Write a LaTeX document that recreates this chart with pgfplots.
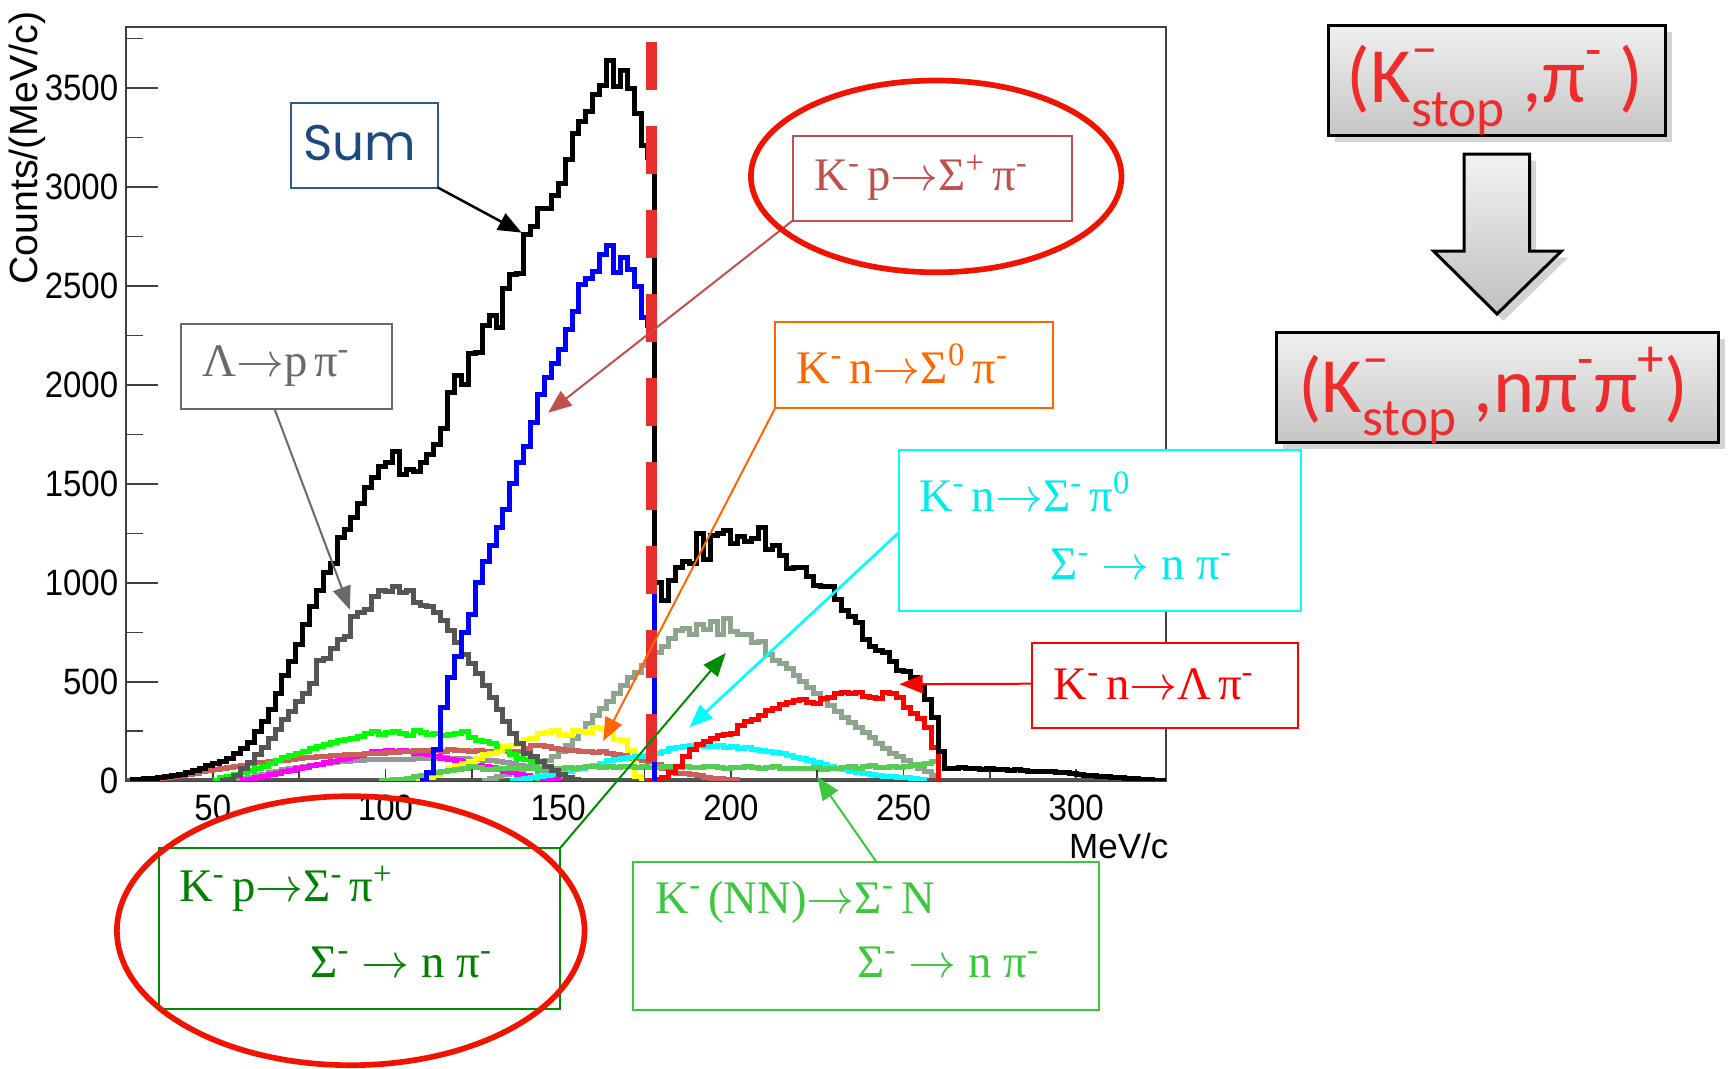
\documentclass[border=0pt]{standalone}
\usepackage{pgfplots}
\pgfplotsset{compat=1.18}
\usepackage{fontspec}
\setmainfont{Liberation Serif}
\newfontfamily\rootfont[FakeStretch=0.9]{Liberation Sans}
\newfontfamily\rootlab{Liberation Sans}
\newfontfamily\calib{Carlito}
\newfontfamily\sumfont{Poppins}
\usetikzlibrary{arrows.meta,shadows}

\definecolor{cgreygreen}{RGB}{140,165,140}
\definecolor{clambda}{RGB}{85,85,85}
\definecolor{clgray}{RGB}{150,150,150}
\definecolor{crose}{RGB}{205,95,90}
\definecolor{clime}{RGB}{0,255,0}
\definecolor{cmag}{RGB}{255,0,255}
\definecolor{cyel}{RGB}{255,255,0}
\definecolor{ccyan}{RGB}{0,255,255}
\definecolor{cnn}{RGB}{85,205,85}
\definecolor{cred}{RGB}{255,0,0}
\definecolor{cblue}{RGB}{0,0,255}
\definecolor{cdash}{RGB}{232,45,45}
\definecolor{csumbox}{RGB}{46,90,140}
\definecolor{csumtxt}{RGB}{31,73,125}
\definecolor{clambdab}{RGB}{105,105,105}
\definecolor{csigp}{RGB}{192,80,77}
\definecolor{corange}{RGB}{255,102,0}
\definecolor{ccyantxt}{RGB}{0,235,235}
\definecolor{cgreen}{RGB}{0,140,0}
\definecolor{cgreentxt}{RGB}{0,128,0}
\definecolor{cnnbox}{RGB}{60,200,60}
\definecolor{cell}{RGB}{240,20,0}
\definecolor{cpanel}{RGB}{238,44,44}

\newcommand{\sk}{\hspace{0.14em}}
\newcommand{\su}[1]{\textsuperscript{#1}}

\begin{document}
\begin{tikzpicture}
\begin{scope}[x=0.3pt,y=-0.3pt,shift={(-37.95pt,234.21pt)}]
\path[use as bounding box] (0,0) rectangle (1729,1067);
\end{scope}
\begin{axis}[at={(0,0)}, anchor=south west, scale only axis,
 width=311.86pt, height=226.15pt,
 xmin=25, xmax=326, ymin=0, ymax=3810,
 axis line style={black!75, line width=0.6pt},
 xtick={50,100,...,300}, minor xtick={75,125,...,275},
 ytick={0,500,...,3500}, minor ytick={250,750,...,3750},
 xtick pos=bottom, ytick pos=left, tick align=inside,
 xtick style={/pgfplots/major tick length=3.6pt,/pgfplots/minor tick length=3.6pt, black!75, line width=0.45pt},
 ytick style={/pgfplots/major tick length=9.3pt,/pgfplots/minor tick length=5.1pt, black!75, line width=0.45pt},
 /pgf/number format/assume math mode=true,
 /pgf/number format/1000 sep={},
 ticklabel style={font={\rootfont\fontsize{11}{11}\selectfont}, inner sep=0pt},
 yticklabel style={xshift=-2.3pt},
 xticklabel style={yshift=-4pt},
 no markers,
 every axis plot/.append style={line width=1.5pt, const plot}
]
% baseline (empty bins)
\addplot[clambda] coordinates {(25,0) (326,0)};
% K- p -> Sigma- pi+
\addplot[cgreygreen] coordinates {(128,0) (130,10) (132,20) (134,30) (136,45) (138,55) (140,65) (142,75) (144,90) (146,100) (148,120) (150,150) (152,180) (154,215) (156,250) (158,290) (160,330) (162,365) (164,400) (166,440) (168,480) (170,520) (172,545) (174,580) (176,620) (178,650) (180,680) (182,720) (184,760) (186,770) (188,740) (190,790) (192,765) (194,805) (196,740) (198,820) (200,755) (202,740) (204,740) (206,700) (208,705) (210,640) (212,610) (214,590) (216,565) (218,530) (220,500) (222,470) (224,440) (226,410) (228,380) (230,350) (232,320) (234,295) (236,270) (238,245) (240,220) (242,190) (244,165) (246,140) (248,120) (250,100) (252,80) (254,62) (256,45) (258,28) (260,0)};
% light gray
\addplot[clgray] coordinates {(54,0) (56,5) (58,10) (60,18) (62,25) (64,32) (66,40) (68,48) (70,55) (72,62) (74,68) (76,73) (78,78) (80,83) (82,88) (84,92) (86,95) (88,98) (90,100) (92,103) (94,105) (96,107) (98,108) (100,107) (102,105) (104,106) (106,108) (108,110) (110,112) (112,113) (114,112) (116,115) (118,113) (120,112) (122,110) (124,108) (126,105) (128,102) (130,100) (132,96) (134,92) (136,85) (138,78) (140,70) (142,62) (144,52) (146,42) (148,32) (150,22) (152,14) (154,8) (156,0)};
% magenta
\addplot[cmag] coordinates {(58,0) (60,5) (62,15) (64,22) (66,30) (68,38) (70,45) (72,52) (74,60) (76,68) (78,75) (80,82) (82,90) (84,98) (86,105) (88,112) (90,120) (92,128) (94,138) (96,147) (98,150) (100,155) (102,150) (104,152) (106,148) (108,140) (110,138) (112,130) (114,120) (116,112) (118,108) (120,100) (122,95) (124,85) (126,75) (128,70) (130,65) (132,55) (134,46) (136,40) (138,32) (140,25) (142,18) (144,12) (146,8) (148,5) (150,0)};
% rose
\addplot[crose] coordinates {(34,0) (36,15) (38,20) (40,25) (42,30) (44,38) (46,45) (48,52) (50,58) (52,62) (54,66) (56,70) (58,78) (60,88) (62,90) (64,92) (66,96) (68,100) (70,104) (72,108) (74,113) (76,116) (78,118) (80,122) (82,124) (84,126) (86,128) (88,130) (90,132) (92,134) (94,136) (96,138) (98,140) (100,142) (102,145) (104,147) (106,150) (108,152) (110,155) (112,153) (114,155) (116,150) (118,158) (120,152) (122,155) (124,150) (126,153) (128,150) (130,148) (132,150) (134,147) (136,150) (138,147) (140,165) (142,180) (144,178) (146,175) (148,163) (150,160) (152,155) (154,155) (156,150) (158,147) (160,145) (162,147) (164,140) (166,130) (168,125) (170,113) (172,110) (174,100) (176,96) (178,80) (180,63) (182,50) (184,37) (186,35) (188,30) (190,25) (192,15) (194,12) (196,10) (198,8) (200,5) (202,0)};
% lime
\addplot[clime] coordinates {(50,0) (52,15) (54,20) (56,30) (58,40) (60,50) (62,60) (64,70) (66,85) (68,100) (70,115) (72,125) (74,140) (76,150) (78,165) (80,175) (82,185) (84,195) (86,205) (88,210) (90,215) (92,225) (94,240) (96,250) (98,235) (100,245) (102,250) (104,240) (106,230) (108,255) (110,245) (112,235) (114,240) (116,230) (118,235) (120,240) (122,250) (124,220) (126,205) (128,200) (130,190) (132,175) (134,160) (136,130) (138,110) (140,105) (142,100) (144,0)};
% yellow: K- n -> Sigma0 pi-
\addplot[cyel] coordinates {(108,0) (110,5) (112,15) (114,30) (116,45) (118,60) (120,75) (122,85) (124,95) (126,110) (128,130) (130,140) (132,150) (134,175) (136,180) (138,195) (140,210) (142,215) (144,240) (146,245) (148,255) (150,235) (152,230) (154,255) (156,250) (158,245) (160,270) (162,265) (164,265) (166,210) (168,205) (170,155) (172,20) (174,0)};
% cyan: K- n -> Sigma- pi0
\addplot[ccyan] coordinates {(136,0) (138,5) (140,10) (142,15) (144,20) (146,25) (148,30) (150,35) (152,45) (154,55) (156,60) (158,70) (160,75) (162,85) (164,100) (166,105) (168,110) (170,115) (172,120) (174,122) (176,125) (178,140) (180,150) (182,165) (184,170) (186,175) (188,180) (190,178) (192,175) (194,172) (196,178) (198,170) (200,172) (202,165) (204,170) (206,160) (208,155) (210,150) (212,145) (214,135) (216,125) (218,115) (220,110) (222,100) (224,90) (226,80) (228,70) (230,62) (232,55) (234,48) (236,40) (238,35) (240,30) (242,25) (244,22) (246,20) (248,18) (250,15) (252,12) (254,8) (256,0)};
% light green: K- (NN) -> Sigma- N
\addplot[cnn] coordinates {(98,0) (100,3) (102,5) (104,8) (106,12) (108,20) (110,28) (112,35) (114,42) (116,46) (118,50) (120,55) (122,60) (124,70) (126,65) (128,55) (130,58) (132,62) (134,63) (136,60) (138,65) (140,62) (142,60) (144,64) (146,62) (148,63) (150,60) (152,65) (154,62) (156,68) (158,70) (160,72) (162,68) (164,70) (166,66) (168,72) (170,70) (172,68) (174,70) (176,66) (178,68) (180,70) (182,72) (184,66) (186,70) (188,68) (190,66) (192,70) (194,72) (196,65) (198,62) (200,68) (202,65) (204,70) (206,66) (208,62) (210,68) (212,70) (214,62) (216,60) (218,64) (220,60) (222,62) (224,65) (226,58) (228,62) (230,60) (232,65) (234,72) (236,62) (238,70) (240,75) (242,66) (244,68) (246,72) (248,68) (250,70) (252,75) (254,80) (256,85) (258,95) (260,0)};
% red: K- n -> Lambda pi-
\addplot[cred] coordinates {(176,0) (178,5) (180,15) (182,40) (184,72) (186,120) (188,160) (190,185) (192,200) (194,215) (196,230) (198,235) (200,240) (202,280) (204,300) (206,310) (208,330) (210,355) (212,365) (214,385) (216,395) (218,405) (220,410) (222,395) (224,390) (226,415) (228,420) (230,440) (232,445) (234,440) (236,445) (238,425) (240,420) (242,415) (244,445) (246,440) (248,420) (250,370) (252,340) (254,315) (256,270) (258,170) (260,0)};
% Lambda -> p pi-
\addplot[clambda] coordinates {(52,0) (54,5) (56,25) (58,60) (60,90) (62,130) (64,170) (66,215) (68,260) (70,310) (72,350) (74,400) (76,440) (78,490) (80,610) (82,620) (84,670) (86,715) (88,730) (90,830) (92,850) (94,865) (96,930) (98,960) (100,955) (102,980) (104,950) (106,960) (108,900) (110,885) (112,880) (114,850) (116,810) (118,760) (120,700) (122,640) (124,590) (126,540) (128,480) (130,420) (132,360) (134,300) (136,240) (138,190) (140,140) (142,120) (144,95) (146,70) (148,50) (150,30) (152,15) (154,5) (156,0)};
% blue: K- p -> Sigma+ pi-
\addplot[cblue] coordinates {(110,0) (112,40) (114,160) (116,370) (118,520) (120,630) (122,750) (124,840) (126,1000) (128,1110) (130,1190) (132,1280) (134,1370) (136,1500) (138,1610) (140,1690) (142,1810) (144,1950) (146,2040) (148,2110) (150,2180) (152,2280) (154,2370) (156,2510) (158,2540) (160,2575) (162,2660) (164,2705) (166,2570) (168,2645) (170,2585) (172,2500) (174,2340) (176,2300) (178,0)};
% Sum
\addplot[black] coordinates {(26,5) (28,8) (30,10) (32,12) (34,15) (36,20) (38,25) (40,32) (42,40) (44,50) (46,62) (48,75) (50,85) (52,95) (54,110) (56,135) (58,165) (60,195) (62,250) (64,300) (66,360) (68,440) (70,530) (72,600) (74,690) (76,790) (78,880) (80,960) (82,1050) (84,1100) (86,1230) (88,1270) (90,1330) (92,1400) (94,1480) (96,1530) (98,1590) (100,1610) (102,1665) (104,1550) (106,1575) (108,1565) (110,1610) (112,1650) (114,1700) (116,1780) (118,1960) (120,2050) (122,2000) (124,2160) (126,2165) (128,2300) (130,2350) (132,2290) (134,2490) (136,2560) (138,2565) (140,2760) (142,2800) (144,2890) (146,2890) (148,2960) (150,3020) (152,3140) (154,3270) (156,3330) (158,3380) (160,3470) (162,3515) (164,3640) (166,3510) (168,3590) (170,3500) (172,3370) (174,3210) (176,3150) (178,1000) (180,910) (182,1010) (184,1080) (186,1110) (188,1100) (190,1250) (192,1120) (194,1240) (196,1250) (198,1265) (200,1200) (202,1235) (204,1210) (206,1225) (208,1280) (210,1170) (212,1190) (214,1140) (216,1075) (218,1080) (220,1080) (222,1030) (224,985) (226,980) (228,980) (230,915) (232,860) (234,830) (236,800) (238,715) (240,680) (242,660) (244,650) (246,600) (248,555) (250,550) (252,520) (254,470) (256,410) (258,320) (260,150) (262,62) (264,60) (266,65) (268,63) (270,62) (272,58) (274,60) (276,55) (278,57) (280,53) (282,55) (284,50) (286,48) (288,47) (290,45) (292,44) (294,40) (296,42) (298,38) (300,32) (302,28) (304,25) (306,22) (308,20) (310,16) (312,14) (314,12) (316,9) (318,7) (320,5) (322,3) (324,2) (326,2)};
% dashed cut line
\addplot[cdash, line width=3.4pt, sharp plot, dash pattern=on 14.4pt off 10.8pt] coordinates {(177,3734) (177,94)};
\coordinate (tipsum) at (axis cs:139.4,2770);
\coordinate (tiplam) at (axis cs:89.7,864);
\coordinate (tipsigp) at (axis cs:147.1,1860);
\coordinate (tipsig0) at (axis cs:163,200);
\coordinate (tipcyan) at (axis cs:188,270);
\coordinate (tipred) at (axis cs:248.8,488);
\coordinate (tipgreen) at (axis cs:198.5,645);
\coordinate (tipnn) at (axis cs:225,20);
\end{axis}

\begin{scope}[x=0.3pt,y=-0.3pt,shift={(-37.95pt,234.21pt)}]
\tikzset{arr/.style={line width=0.6pt, -{Triangle[length=7pt,width=5.5pt]}}}
\def\boxfont{\fontsize{14}{14}\selectfont}
% axis titles
\node[rotate=90, anchor=east, inner sep=0, font={\rootlab\fontsize{11.8}{11.8}\selectfont}] at (27.6,11) {Counts/(MeV/c)};
\node[anchor=east, inner sep=0, font={\rootlab\fontsize{10.5}{10.5}\selectfont}] at (1169,846) {MeV/c};
% Sum
\draw[csumbox, line width=0.6pt, fill=white] (291.1,102.6) rectangle (437.8,187.5);
\node[text=csumtxt, font={\sumfont\fontsize{15}{15}\selectfont}, inner sep=0] at (359.5,143.4) {Sum};
\draw[black, arr, line width=0.75pt] (437.8,187.5) -- (tipsum);
% Lambda
\draw[clambdab, line width=0.6pt, fill=white] (180.8,324.2) rectangle (391.5,409.1);
\node[text=clambdab, font=\boxfont, inner sep=0, anchor=west] at (201.8,366) {Λ$\rightarrow$p\sk π\su{-}};
\draw[clambdab, arr] (274.6,409.1) -- (tiplam);
% Sigma+ pi-
\draw[csigp, line width=0.6pt, fill=white] (792.8,135.6) rectangle (1071.8,220.5);
\node[text=csigp, font=\boxfont, inner sep=0, anchor=west] at (813.8,177.5) {K\su{-}\sk p$\rightarrow$Σ\su{+}\sk π\su{-}};
\draw[csigp, arr] (792.8,220.5) -- (tipsigp);
\draw[cell, line width=1.7pt] (936.2,176.4) ellipse [x radius=185.3, y radius=95.9];
% Sigma0 pi-
\draw[corange, line width=0.6pt, fill=white] (775.2,322) rectangle (1053,408);
\node[text=corange, font=\boxfont, inner sep=0, anchor=west] at (796.2,364) {K\su{-}\sk n$\rightarrow$Σ\su{0}\sk π\su{-}};
\draw[corange, arr] (775.2,408) -- (tipsig0);
% Sigma- pi0
\draw[ccyan, line width=0.6pt, fill=white] (898.7,449.9) rectangle (1301.2,610.9);
\node[text=ccyantxt, font=\boxfont, inner sep=0, anchor=west] at (918.5,491.8) {K\su{-}\sk n$\rightarrow$Σ\su{-}\sk π\su{0}};
\node[text=ccyantxt, font=\boxfont, inner sep=0, anchor=west] at (1049.8,564.6) {Σ\su{-} $\rightarrow$ n π\su{-}};
\draw[ccyan, arr, line width=0.8pt] (898.7,532.6) -- (tipcyan);
% Lambda pi-
\draw[cred, line width=0.6pt, fill=white] (1032.1,642.9) rectangle (1297.9,727.8);
\node[text=cred, font=\boxfont, inner sep=0, anchor=west] at (1053,684.8) {K\su{-}\sk n$\rightarrow$Λ\sk π\su{-}};
\draw[cred, arr] (1032.1,683.7) -- (tipred);
% Sigma- pi+
\draw[cgreen, line width=0.6pt, fill=white] (158.8,848) rectangle (560.2,1009);
\node[text=cgreentxt, font=\boxfont, inner sep=0, anchor=west] at (178.6,888.8) {K\su{-}\sk p$\rightarrow$Σ\su{-}\sk π\su{+}};
\node[text=cgreentxt, font=\boxfont, inner sep=0, anchor=west] at (309.9,962.7) {Σ\su{-} $\rightarrow$ n π\su{-}};
\draw[cgreen, arr] (560.2,848) -- (tipgreen);
\draw[cell, line width=1.7pt] (350.7,930.7) ellipse [x radius=233.8, y radius=134.5];
% NN
\draw[cnnbox, line width=0.6pt, fill=white] (633,862.3) rectangle (1099.4,1010.1);
\node[text=cnnbox, font=\boxfont, inner sep=0, anchor=west] at (655,902) {K\su{-}\sk(NN)$\rightarrow$Σ\su{-}\sk N};
\node[text=cnnbox, font=\boxfont, inner sep=0, anchor=west] at (856.8,962.7) {Σ\su{-} $\rightarrow$ n π\su{-}};
\draw[cnnbox, arr] (876.7,862.3) -- (tipnn);
% right panel
\path[draw=black, line width=0.9pt, top color=gray!12, bottom color=gray!45, drop shadow={opacity=0.35, shadow xshift=2pt, shadow yshift=-2pt}] (1328.8,25.4) rectangle (1665,135.6);
\node[text=cpanel, inner sep=0, font={\calib\fontsize{23.5}{23.5}\selectfont}] at (1495,90) {(K\rlap{\raisebox{0.47em}{\fontsize{16}{16}\selectfont –}}\raisebox{-0.3em}{\fontsize{16}{16}\selectfont stop} ,π\raisebox{0.45em}{\fontsize{16}{16}\selectfont -} )};
\path[draw=black, line width=0.9pt, top color=gray!10, bottom color=gray!50, drop shadow={opacity=0.35, shadow xshift=2pt, shadow yshift=-2pt}] (1464,154) -- (1529.5,154) -- (1529.5,251) -- (1561.5,251) -- (1497,314) -- (1433.5,251) -- (1464,251) -- cycle;
\path[draw=black, line width=0.9pt, top color=gray!12, bottom color=gray!45, drop shadow={opacity=0.35, shadow xshift=2pt, shadow yshift=-2pt}] (1276,332) rectangle (1718,442);
\node[text=cpanel, inner sep=0, font={\calib\fontsize{23.5}{23.5}\selectfont}] at (1493,396) {(K\rlap{\raisebox{0.47em}{\fontsize{16}{16}\selectfont –}}\raisebox{-0.3em}{\fontsize{16}{16}\selectfont stop} ,nπ\raisebox{0.45em}{\fontsize{16}{16}\selectfont -}π\raisebox{0.45em}{\fontsize{16}{16}\selectfont +})};
\end{scope}
\end{tikzpicture}
\end{document}
